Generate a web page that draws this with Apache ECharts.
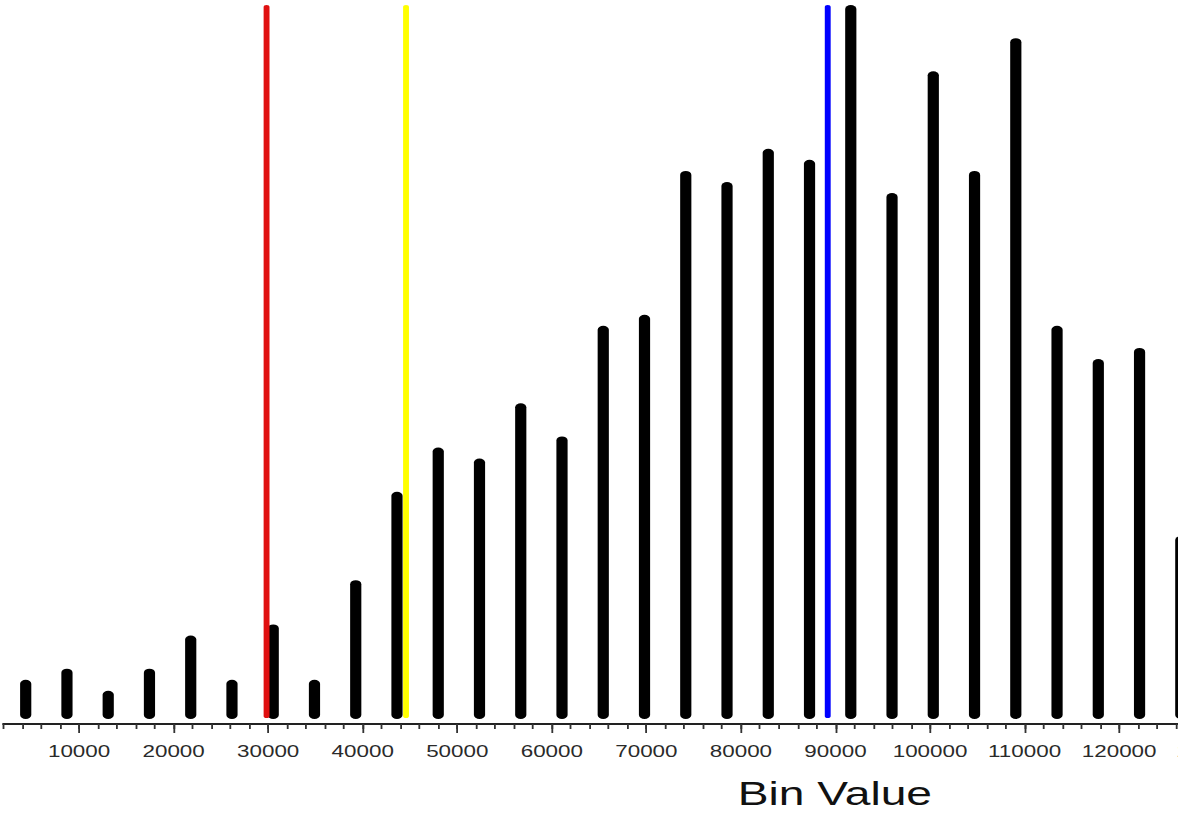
<!DOCTYPE html>
<html>
<head>
<meta charset="utf-8">
<script src="https://cdn.jsdelivr.net/npm/echarts@6/dist/echarts.min.js"></script>
<style>
  html, body { margin: 0; padding: 0; width: 1178px; height: 819px; overflow: hidden; background: #fff; }
  #chart { position: absolute; left: 0; top: 0; width: 884px; height: 819px; transform: scaleX(1.4); transform-origin: 0 0; }
</style>
</head>
<body>
<div id="chart"></div>
<script>
// ---- data ----
const binCenters = [4357, 8720, 13083, 17446, 21809, 26172, 30535, 34898, 39261, 43624,
                    47987, 52350, 56713, 61076, 65439, 69802, 74165, 78528, 82891, 87254,
                    91617, 95980, 100343, 104706, 109069, 113432, 117795, 122158, 126521];
const counts = [4, 5, 3, 5, 8, 4, 9, 4, 13, 21,
                25, 24, 29, 26, 36, 37, 50, 49, 52, 51,
                65, 48, 59, 50, 62, 36, 33, 34, 17];
const markerValues = [29830, 44580, 89180];
const majorTicks = [10000, 20000, 30000, 40000, 50000, 60000, 70000, 80000, 90000, 100000, 110000, 120000, 130000];
const axisTitle = 'Bin Value';

// ---- chart ----
const X_MIN = 2000, X_MAX = 132000, Y_MAX = 65;
const markerPalette = ['#e01010', '#ffff00', '#0000ff'];
const FONT = '"Liberation Sans", Arial, sans-serif';

const chart = echarts.init(document.getElementById('chart'), null, { renderer: 'svg' });

function roundedBar(width, color, gap) {
  return function (params, api) {
    const top = api.coord([api.value(0), api.value(1)]);
    const base = api.coord([api.value(0), 0]);
    const bottom = base[1] - gap;
    return {
      type: 'rect',
      shape: { x: top[0] - width / 2, y: top[1], width: width, height: bottom - top[1], r: width / 2 },
      style: { fill: typeof color === 'function' ? color(params.dataIndex) : color }
    };
  };
}

const option = {
  animation: false,
  backgroundColor: '#ffffff',
  grid: { left: 2.44, right: 3.56, top: 5, bottom: 95, containLabel: false, outerBoundsMode: 'none' },
  xAxis: [
    {
      type: 'value', min: X_MIN, max: X_MAX, interval: 2000,
      axisLine: { show: true, onZero: false, lineStyle: { color: '#222', width: 2 } },
      axisTick: { show: true, inside: false, length: 5, lineStyle: { color: '#333', width: 1.3 } },
      axisLabel: { show: false },
      splitLine: { show: false }
    },
    {
      type: 'value', min: X_MIN, max: X_MAX, position: 'bottom', offset: 0,
      axisLine: { show: false, onZero: false },
      axisTick: { show: true, customValues: majorTicks, length: 9, lineStyle: { color: '#333', width: 1.3 } },
      axisLabel: {
        show: true, customValues: majorTicks, fontSize: 16, color: '#2a2a2a', margin: 19, fontFamily: FONT,
        formatter: v => String(v)
      },
      splitLine: { show: false }
    }
  ],
  yAxis: { type: 'value', min: 0, max: Y_MAX, show: false, splitLine: { show: false } },
  graphic: [
    {
      type: 'text', left: 527, top: 777,
      style: { text: axisTitle, fontSize: 33, fill: '#111', fontFamily: FONT }
    }
  ],
  series: [
    {
      type: 'custom', xAxisIndex: 0, yAxisIndex: 0,
      data: binCenters.map((b, i) => [b, counts[i]]),
      renderItem: roundedBar(8, '#000000', 5),
      z: 2
    },
    {
      type: 'custom', xAxisIndex: 0, yAxisIndex: 0,
      data: markerValues.map(v => [v, Y_MAX]),
      renderItem: roundedBar(4.2, i => markerPalette[i], 6),
      z: 3
    }
  ]
};
chart.setOption(option);
</script>
</body>
</html>
